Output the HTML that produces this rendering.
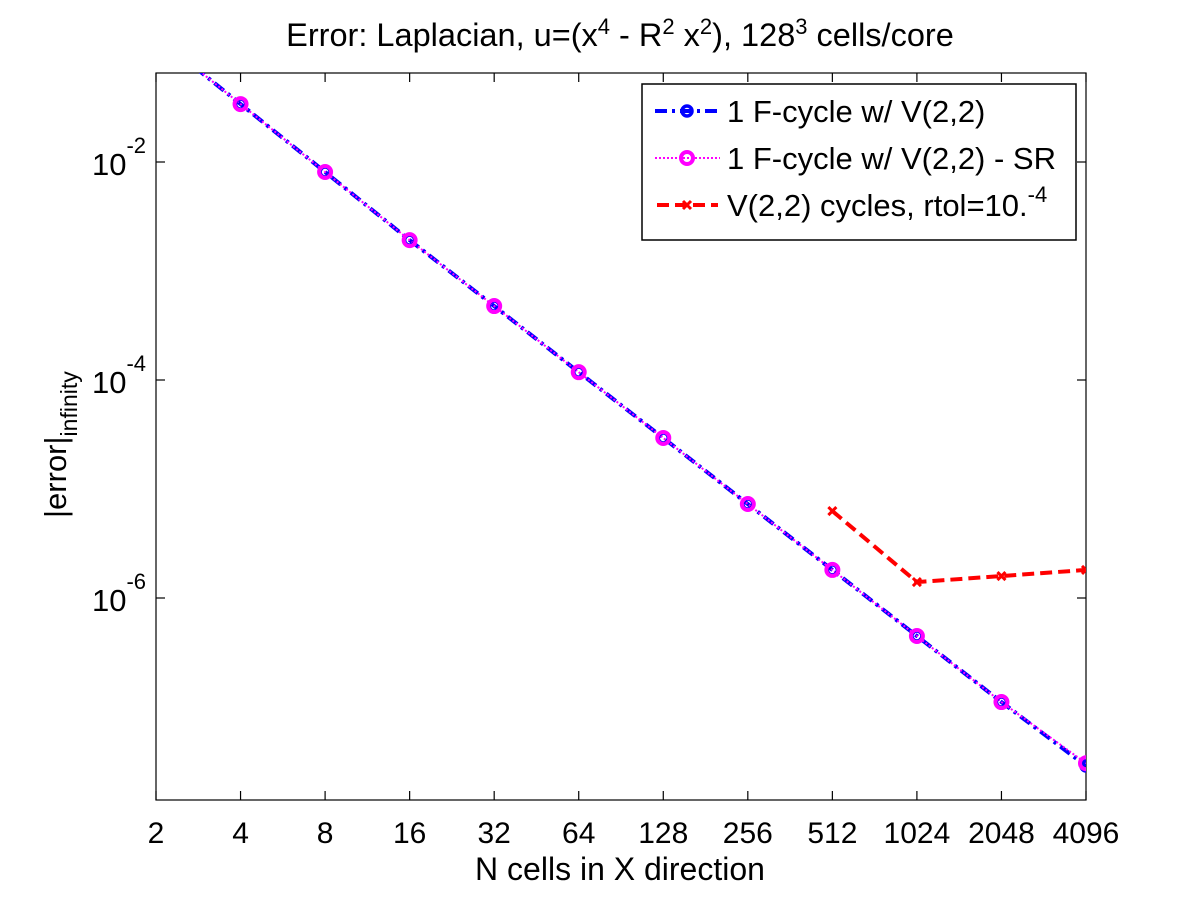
<!DOCTYPE html>
<html><head><meta charset="utf-8"><style>
body{margin:0;background:#fff;}
svg text{font-family:"Liberation Sans",sans-serif;fill:#000;}
</style></head><body>
<svg id="chart" width="1200" height="900" xmlns="http://www.w3.org/2000/svg">
<rect x="0" y="0" width="1200" height="900" fill="#fff"/>
<defs><clipPath id="clip"><rect x="156" y="73" width="930" height="727"/></clipPath></defs>
<text x="620" y="46" font-size="32.5" text-anchor="middle">Error: Laplacian, u=(x<tspan dy="-12" font-size="22">4</tspan><tspan dy="12"> - R</tspan><tspan dy="-12" font-size="22">2</tspan><tspan dy="12"> x</tspan><tspan dy="-12" font-size="22">2</tspan><tspan dy="12">), 128</tspan><tspan dy="-12" font-size="22">3</tspan><tspan dy="12"> cells/core</tspan></text>
<g id="axes"></g>
<g id="series" clip-path="url(#clip)"></g>
<text x="620" y="880" font-size="32" text-anchor="middle">N cells in X direction</text>
<text transform="translate(66,518) rotate(-90)" font-size="31">|error|<tspan dy="11" font-size="23">infinity</tspan></text>
<g id="legend">
<rect x="642" y="84" width="434" height="156" fill="#fff" stroke="#000" stroke-width="1.5"/>
</g>
</svg>
<script>
const xCats = [2,4,8,16,32,64,128,256,512,1024,2048,4096];
const xTickLabels = ["2","4","8","16","32","64","128","256","512","1024","2048","4096"];
const yTickExps = [-2,-4,-6];
const fcycleN = [2,4,8,16,32,64,128,256,512,1024,2048,4096];
const fcycleErr = [0.143,0.034,0.0081,0.00192,0.000477,0.000118,2.94e-5,7.28e-6,1.81e-6,4.48e-7,1.11e-7,2.88e-8];
const fcycleSRErr = [0.143,0.034,0.0081,0.00192,0.000477,0.000118,2.94e-5,7.28e-6,1.81e-6,4.48e-7,1.11e-7,3.05e-8];
const vcycN = [512,1024,2048,4096];
const vcycErr = [6.28e-6,1.40e-6,1.59e-6,1.81e-6];

const X0=156,X1=1086,Y0=73,Y1=800;
const xmin=Math.log2(2),xmax=Math.log2(4096);
const ymax=-2+89/109, ymin=-6-202/109;
function xs(v){return X0+(Math.log2(v)-xmin)/(xmax-xmin)*(X1-X0);}
function ys(v){return Y0+(ymax-Math.log10(v))/(ymax-ymin)*(Y1-Y0);}
const NS="http://www.w3.org/2000/svg";
function mk(tag,attrs,parent){const e=document.createElementNS(NS,tag);for(const k in attrs)e.setAttribute(k,attrs[k]);parent.appendChild(e);return e;}
const axes=document.getElementById('axes'),ser=document.getElementById('series'),leg=document.getElementById('legend');
let box=mk('rect',{x:X0,y:Y0,width:X1-X0,height:Y1-Y0,fill:'none',stroke:'#000','stroke-width':1.2},axes);


xCats.forEach((c,i)=>{
  const x=xs(c);
  const t1=mk('line',{x1:x,y1:Y1,x2:x,y2:Y1-9,stroke:'#000','stroke-width':1.2},axes);
  
  
  const t2=mk('line',{x1:x,y1:Y0,x2:x,y2:Y0+9,stroke:'#000','stroke-width':1.2},axes);
  
  
  const l=mk('text',{x:x,y:Y1+43,'font-size':30,'text-anchor':'middle'},axes);
  l.textContent=xTickLabels[i];
  
  
});
yTickExps.forEach(e=>{
  const y=ys(Math.pow(10,e));
  const t1=mk('line',{x1:X0,y1:y,x2:X0+9,y2:y,stroke:'#000','stroke-width':1.2},axes);
  
  
  const t2=mk('line',{x1:X1,y1:y,x2:X1-9,y2:y,stroke:'#000','stroke-width':1.2},axes);
  
  
  const l=mk('text',{x:92,y:y+13,'font-size':31},axes);
  l.innerHTML='10<tspan dy="-22" font-size="22">'+e+'</tspan>';
  
  
});
function pts(xa,ya){return xa.map((v,i)=>xs(v)+','+ys(ya[i])).join(' ');}
const lb=mk('polyline',{points:pts(fcycleN,fcycleErr),fill:'none',stroke:'#0000ff','stroke-width':4,'stroke-dasharray':'12,5,3,5'},ser);


const lm=mk('polyline',{points:pts(fcycleN,fcycleSRErr),fill:'none',stroke:'#ff00ff','stroke-width':2,'stroke-dasharray':'2,2'},ser);


const lr=mk('polyline',{points:pts(vcycN,vcycErr),fill:'none',stroke:'#ff0000','stroke-width':4,'stroke-dasharray':'12,6'},ser);


fcycleN.forEach((n,i)=>{
  const c=mk('circle',{cx:xs(n),cy:ys(fcycleErr[i]),r:5,fill:'none',stroke:'#0000ff','stroke-width':3.5},ser);
  
  
  const m=mk('circle',{cx:xs(n),cy:ys(fcycleSRErr[i]),r:6,fill:'none',stroke:'#ff00ff','stroke-width':4},ser);
  
  
});
vcycN.forEach((n,i)=>{
  const x=xs(n),y=ys(vcycErr[i]);
  const p=mk('path',{d:`M${x-4},${y-4}L${x+4},${y+4}M${x+4},${y-4}L${x-4},${y+4}`,stroke:'#ff0000','stroke-width':3},ser);
  
  
});
const ly=[111,158,205];
let a=mk('line',{x1:655,y1:ly[0],x2:720,y2:ly[0],stroke:'#0000ff','stroke-width':4,'stroke-dasharray':'12,5,3,5'},leg);

a=mk('circle',{cx:687,cy:ly[0],r:5,fill:'none',stroke:'#0000ff','stroke-width':3.5},leg);

a=mk('line',{x1:655,y1:ly[1],x2:720,y2:ly[1],stroke:'#ff00ff','stroke-width':2,'stroke-dasharray':'2,2'},leg);

a=mk('circle',{cx:687,cy:ly[1],r:6,fill:'none',stroke:'#ff00ff','stroke-width':4},leg);

a=mk('line',{x1:657,y1:ly[2],x2:718,y2:ly[2],stroke:'#ff0000','stroke-width':4,'stroke-dasharray':'12,6'},leg);

a=mk('path',{d:`M683,${ly[2]-4}L691,${ly[2]+4}M691,${ly[2]-4}L683,${ly[2]+4}`,stroke:'#ff0000','stroke-width':3},leg);

const labs=['1 F-cycle w/ V(2,2)','1 F-cycle w/ V(2,2) - SR','V(2,2) cycles, rtol=10.<tspan dy="-14" font-size="22">-4</tspan>'];
labs.forEach((t,i)=>{
  const e=mk('text',{x:727,y:ly[i]+11,'font-size':31},leg);
  e.innerHTML=t;
  
  
});
</script>
</body></html>
